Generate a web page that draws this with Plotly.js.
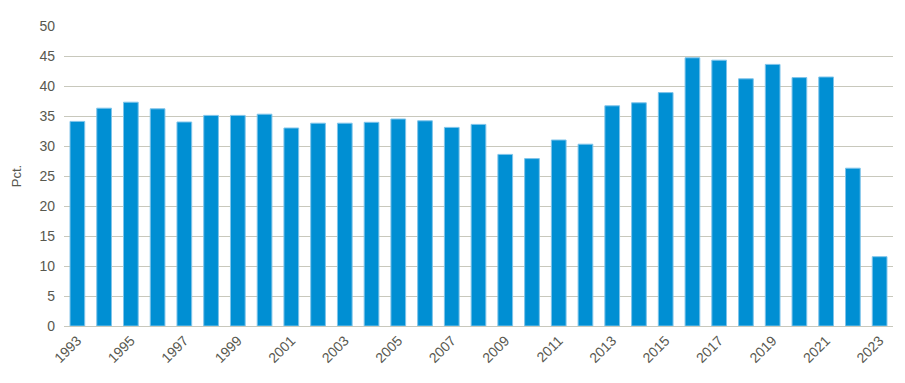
<!DOCTYPE html>
<html>
<head>
<meta charset="utf-8">
<script src="https://cdn.plot.ly/plotly-3.0.1.min.js"></script>
<style>html,body{margin:0;padding:0;background:#fff;}#chart{width:905px;height:383px;}</style>
</head>
<body>
<div id="chart"></div>
<script>
const years = [1993,1994,1995,1996,1997,1998,1999,2000,2001,2002,2003,2004,2005,2006,2007,2008,2009,2010,2011,2012,2013,2014,2015,2016,2017,2018,2019,2020,2021,2022,2023];
const values = [34.1,36.3,37.3,36.2,34.0,35.1,35.1,35.3,33.0,33.8,33.8,33.95,34.5,34.2,33.1,33.6,28.6,27.9,31.0,30.3,36.7,37.2,38.9,44.7,44.3,41.2,43.6,41.4,41.5,26.3,11.55];
const yTitle = "Pct.";

const txt = '#58584f';
const trace = {
  type: 'bar',
  x: years,
  y: values,
  marker: {color: '#008fd3', line: {color: '#7fc4ea', width: 1}},
  hoverinfo: 'x+y'
};
const layout = {
  width: 905, height: 383,
  margin: {l: 64, r: 12, t: 26, b: 57},
  paper_bgcolor: '#fff', plot_bgcolor: '#fff',
  bargap: 0.45,
  showlegend: false,
  font: {family: 'Liberation Sans, Arial, sans-serif', size: 14, color: txt},
  xaxis: {
    range: [1992.5, 2023.5],
    tickmode: 'linear', tick0: 1993, dtick: 2,
    tickangle: -45,
    showgrid: false, zeroline: false,
    showline: true, linecolor: '#c8c8bc', linewidth: 1,
    ticks: '', tickfont: {size: 14, color: txt}
  },
  yaxis: {
    range: [0, 50], dtick: 5, tick0: 0,
    showgrid: true, gridcolor: '#c8c8bc', gridwidth: 1,
    zeroline: false, showline: false, ticks: '',
    ticklabelstandoff: 8,
    tickfont: {size: 14, color: txt},
    title: {text: yTitle, font: {size: 13, color: txt}, standoff: 14}
  }
};
Plotly.newPlot('chart', [trace], layout, {displayModeBar: false, staticPlot: true});
</script>
</body>
</html>
